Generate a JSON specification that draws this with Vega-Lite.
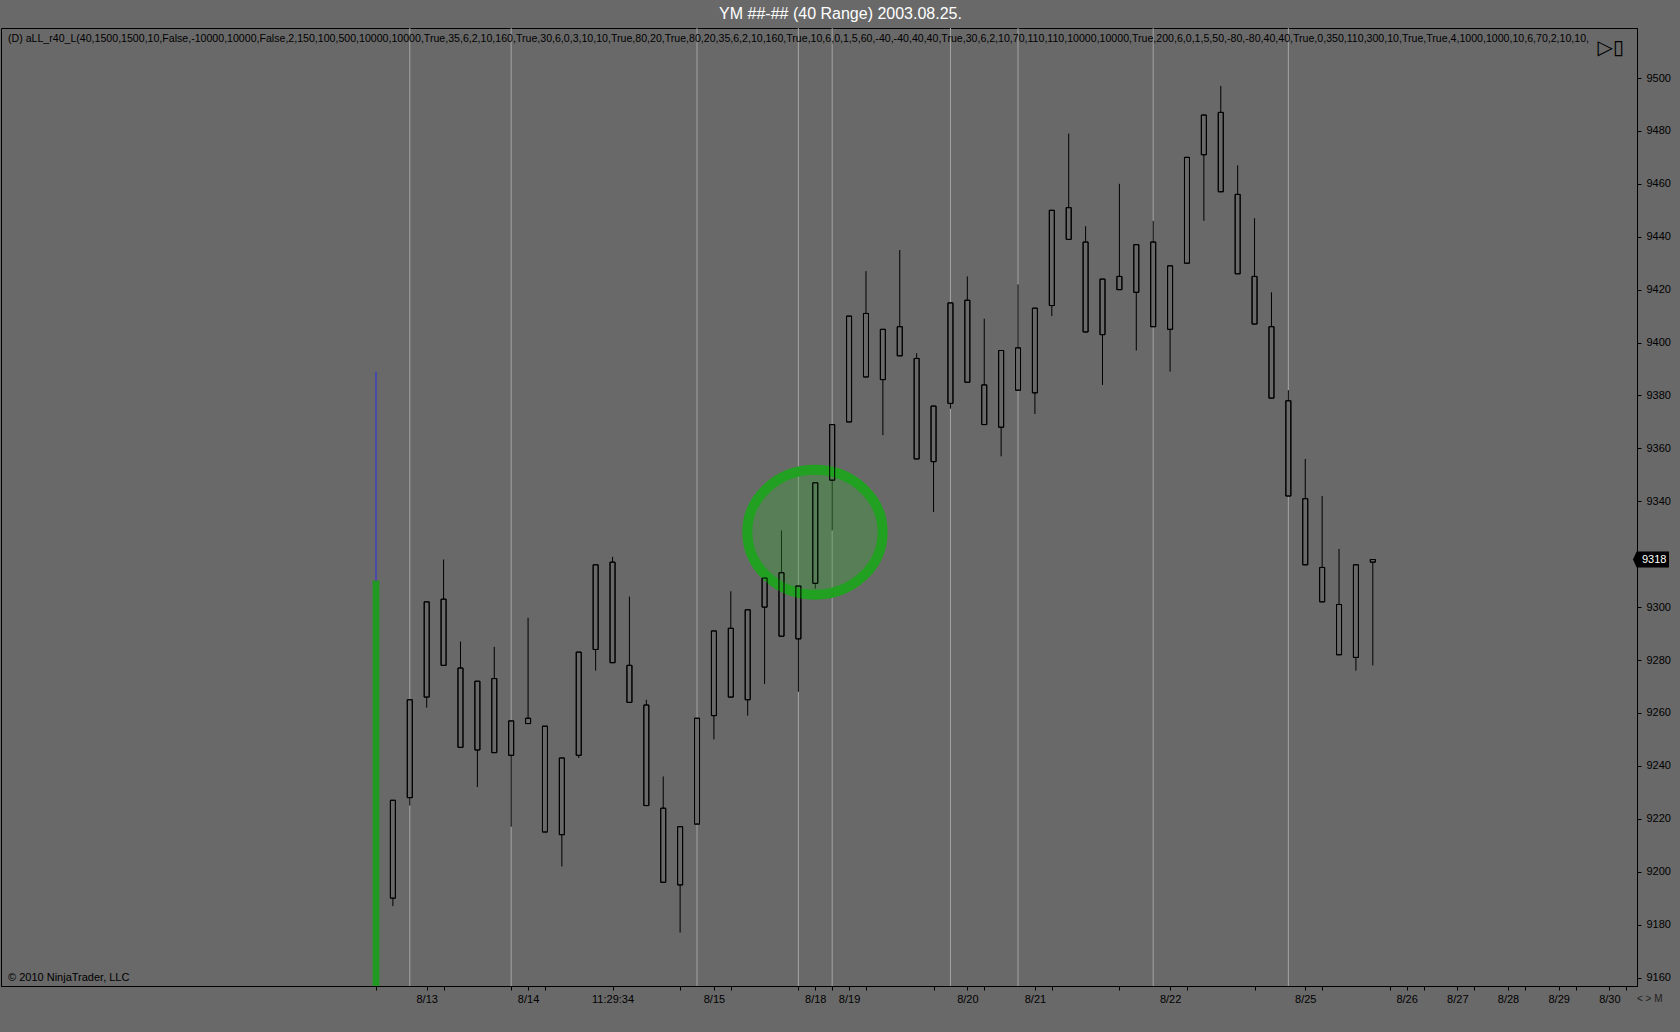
{
  "$schema": "https://vega.github.io/schema/vega-lite/v6.json",
  "width": 1680,
  "height": 1032,
  "autosize": {"type": "fit", "contains": "padding"},
  "padding": {"left": 1, "top": 5, "right": 0, "bottom": 0},
  "background": "#696969",
  "title": {
    "text": "YM ##-## (40 Range)  2003.08.25.",
    "color": "#ffffff",
    "font": "Liberation Sans",
    "fontSize": 16,
    "fontWeight": "normal",
    "anchor": "middle",
    "frame": "bounds",
    "offset": 6
  },
  "datasets": {
    "candles": [
      {"i": 1, "open": 9190, "high": 9227, "low": 9187, "close": 9227},
      {"i": 2, "open": 9228, "high": 9265, "low": 9225, "close": 9265},
      {"i": 3, "open": 9266, "high": 9302, "low": 9262, "close": 9302},
      {"i": 4, "open": 9303, "high": 9318, "low": 9278, "close": 9278},
      {"i": 5, "open": 9277, "high": 9287, "low": 9247, "close": 9247},
      {"i": 6, "open": 9246, "high": 9272, "low": 9232, "close": 9272},
      {"i": 7, "open": 9273, "high": 9285, "low": 9245, "close": 9245},
      {"i": 8, "open": 9244, "high": 9257, "low": 9217, "close": 9257},
      {"i": 9, "open": 9258, "high": 9296, "low": 9256, "close": 9256},
      {"i": 10, "open": 9255, "high": 9255, "low": 9215, "close": 9215},
      {"i": 11, "open": 9214, "high": 9243, "low": 9202, "close": 9243},
      {"i": 12, "open": 9244, "high": 9283, "low": 9243, "close": 9283},
      {"i": 13, "open": 9284, "high": 9316, "low": 9276, "close": 9316},
      {"i": 14, "open": 9317, "high": 9319, "low": 9279, "close": 9279},
      {"i": 15, "open": 9278, "high": 9304, "low": 9264, "close": 9264},
      {"i": 16, "open": 9263, "high": 9265, "low": 9225, "close": 9225},
      {"i": 17, "open": 9224, "high": 9236, "low": 9196, "close": 9196},
      {"i": 18, "open": 9195, "high": 9217, "low": 9177, "close": 9217},
      {"i": 19, "open": 9218, "high": 9258, "low": 9218, "close": 9258},
      {"i": 20, "open": 9259, "high": 9291, "low": 9250, "close": 9291},
      {"i": 21, "open": 9292, "high": 9306, "low": 9266, "close": 9266},
      {"i": 22, "open": 9265, "high": 9299, "low": 9259, "close": 9299},
      {"i": 23, "open": 9300, "high": 9311, "low": 9271, "close": 9311},
      {"i": 24, "open": 9313, "high": 9329, "low": 9289, "close": 9289},
      {"i": 25, "open": 9288, "high": 9308, "low": 9268, "close": 9308},
      {"i": 26, "open": 9309, "high": 9347, "low": 9307, "close": 9347},
      {"i": 27, "open": 9348, "high": 9369, "low": 9329, "close": 9369},
      {"i": 28, "open": 9370, "high": 9410, "low": 9370, "close": 9410},
      {"i": 29, "open": 9411, "high": 9427, "low": 9387, "close": 9387},
      {"i": 30, "open": 9386, "high": 9405, "low": 9365, "close": 9405},
      {"i": 31, "open": 9406, "high": 9435, "low": 9395, "close": 9395},
      {"i": 32, "open": 9394, "high": 9396, "low": 9356, "close": 9356},
      {"i": 33, "open": 9355, "high": 9376, "low": 9336, "close": 9376},
      {"i": 34, "open": 9377, "high": 9415, "low": 9375, "close": 9415},
      {"i": 35, "open": 9416, "high": 9425, "low": 9385, "close": 9385},
      {"i": 36, "open": 9384, "high": 9409, "low": 9369, "close": 9369},
      {"i": 37, "open": 9368, "high": 9397, "low": 9357, "close": 9397},
      {"i": 38, "open": 9398, "high": 9422, "low": 9382, "close": 9382},
      {"i": 39, "open": 9381, "high": 9413, "low": 9373, "close": 9413},
      {"i": 40, "open": 9414, "high": 9450, "low": 9410, "close": 9450},
      {"i": 41, "open": 9451, "high": 9479, "low": 9439, "close": 9439},
      {"i": 42, "open": 9438, "high": 9444, "low": 9404, "close": 9404},
      {"i": 43, "open": 9403, "high": 9424, "low": 9384, "close": 9424},
      {"i": 44, "open": 9425, "high": 9460, "low": 9420, "close": 9420},
      {"i": 45, "open": 9419, "high": 9437, "low": 9397, "close": 9437},
      {"i": 46, "open": 9438, "high": 9446, "low": 9406, "close": 9406},
      {"i": 47, "open": 9405, "high": 9429, "low": 9389, "close": 9429},
      {"i": 48, "open": 9430, "high": 9470, "low": 9430, "close": 9470},
      {"i": 49, "open": 9471, "high": 9486, "low": 9446, "close": 9486},
      {"i": 50, "open": 9487, "high": 9497, "low": 9457, "close": 9457},
      {"i": 51, "open": 9456, "high": 9467, "low": 9426, "close": 9426},
      {"i": 52, "open": 9425, "high": 9447, "low": 9407, "close": 9407},
      {"i": 53, "open": 9406, "high": 9419, "low": 9379, "close": 9379},
      {"i": 54, "open": 9378, "high": 9382, "low": 9342, "close": 9342},
      {"i": 55, "open": 9341, "high": 9356, "low": 9316, "close": 9316},
      {"i": 56, "open": 9315, "high": 9342, "low": 9302, "close": 9302},
      {"i": 57, "open": 9301, "high": 9322, "low": 9282, "close": 9282},
      {"i": 58, "open": 9281, "high": 9316, "low": 9276, "close": 9316},
      {"i": 59, "open": 9317, "high": 9318, "low": 9278, "close": 9318}
    ],
    "sessions": [
      {"i": 2}, {"i": 8}, {"i": 19}, {"i": 25}, {"i": 27}, {"i": 34}, {"i": 38}, {"i": 46}, {"i": 54}
    ],
    "signal": [
      {"i": 0, "signal": 9310, "target": 9389}
    ],
    "highlight": [
      {"i": 25.98, "price": 9328.3}
    ],
    "notes": [
      {"i": -21.9, "price": 9518.9, "note": "(D)  aLL_r40_L(40,1500,1500,10,False,-10000,10000,False,2,150,100,500,10000,10000,True,35,6,2,10,160,True,30,6,0,3,10,10,True,80,20,True,80,20,35,6,2,10,160,True,10,6,0,1,5,60,-40,-40,40,40,True,30,6,2,10,70,110,110,10000,10000,True,200,6,0,1,5,50,-80,-80,40,40,True,0,350,110,300,10,True,True,4,1000,1000,10,6,70,2,10,10,"}
    ],
    "copyright": [
      {"i": -21.9, "price": 9156.8, "note": "© 2010 NinjaTrader, LLC"}
    ],
    "corner": [
      {"i": 74.34, "price": 9518.9}
    ],
    "bottomCorner": [
      {"i": 74.34, "price": 9156.8}
    ],
    "lastPrice": [
      {"i": 74.34, "price": 9318}
    ]
  },
  "encoding": {
    "x": {
      "field": "i",
      "type": "quantitative",
      "title": null,
      "scale": {"domain": [-21.9, 74.34], "nice": false, "zero": false},
      "axis": {
        "orient": "bottom",
        "values": [0, 3, 4, 8, 9, 10, 14, 18, 20, 21, 25, 26, 27, 28, 29, 33, 35, 36, 39, 40, 44, 47, 48, 52, 55, 56, 60, 61, 62, 64, 65, 67, 68, 70, 71, 73, 74],
        "labelExpr": "['8/13','8/14','11:29:34','8/15','8/18','8/19','8/20','8/21','8/22','8/25','8/26','8/27','8/28','8/29','8/30'][indexof([3,9,14,20,26,28,35,39,47,55,61,64,67,70,73], datum.value)] || ''",
        "labelFlush": false,
        "labelOverlap": false,
        "labelPadding": 3,
        "tickSize": 4,
        "minExtent": 46,
        "maxExtent": 46
      }
    },
    "y": {
      "field": "price",
      "type": "quantitative",
      "title": null,
      "scale": {"domain": [9156.8, 9518.9], "nice": false, "zero": false},
      "axis": {
        "orient": "right",
        "format": "d",
        "values": [9160, 9180, 9200, 9220, 9240, 9260, 9280, 9300, 9340, 9360, 9380, 9400, 9420, 9440, 9460, 9480, 9500],
        "labelFlush": false,
        "labelOverlap": false,
        "labelPadding": 5,
        "tickSize": 4,
        "minExtent": 43,
        "maxExtent": 43
      }
    }
  },
  "layer": [
    {
      "data": {"name": "sessions"},
      "mark": {"type": "rule", "color": "#a4a4a4", "strokeWidth": 1},
      "encoding": {"y": null}
    },
    {
      "data": {"name": "signal"},
      "mark": {"type": "bar", "color": "#229922", "size": 7},
      "encoding": {
        "y": {"field": "signal", "type": "quantitative", "title": null},
        "y2": {"datum": 9156.8}
      }
    },
    {
      "data": {"name": "signal"},
      "mark": {"type": "rule", "color": "#2a2ae6", "strokeWidth": 1},
      "encoding": {
        "y": {"field": "signal", "type": "quantitative", "title": null},
        "y2": {"field": "target"}
      }
    },
    {
      "data": {"name": "candles"},
      "mark": {"type": "rule", "color": "#000000", "strokeWidth": 1},
      "encoding": {
        "y": {"field": "high", "type": "quantitative", "title": null},
        "y2": {"field": "low"}
      }
    },
    {
      "data": {"name": "candles"},
      "mark": {"type": "bar", "size": 5, "fill": "#696969", "stroke": "#000000", "strokeWidth": 1},
      "encoding": {
        "y": {"field": "open", "type": "quantitative", "title": null},
        "y2": {"field": "close"}
      }
    },
    {
      "data": {"name": "highlight"},
      "mark": {
        "type": "point",
        "shape": "M 1 0 C 1 0.5098 0.5523 0.923 0 0.923 C -0.5523 0.923 -1 0.5098 -1 0 C -1 -0.5098 -0.5523 -0.923 0 -0.923 C 0.5523 -0.923 1 -0.5098 1 0 Z",
        "size": 18330,
        "filled": true,
        "fill": "#33aa33",
        "fillOpacity": 0.33,
        "stroke": "#22a022",
        "strokeOpacity": 1,
        "strokeWidth": 10
      }
    },
    {
      "data": {"name": "candles"},
      "mark": {"type": "bar", "size": 5, "fill": "#696969", "fillOpacity": 0, "stroke": "#000000", "strokeWidth": 1},
      "encoding": {
        "y": {"field": "open", "type": "quantitative", "title": null},
        "y2": {"field": "close"}
      }
    },
    {
      "data": {"name": "notes"},
      "mark": {"type": "text", "align": "left", "baseline": "middle", "dx": 2, "dy": 11, "font": "Liberation Sans", "fontSize": 10.6, "color": "#000000"},
      "encoding": {"text": {"field": "note"}}
    },
    {
      "data": {"name": "copyright"},
      "mark": {"type": "text", "align": "left", "baseline": "middle", "dx": 2, "dy": -8, "font": "Liberation Sans", "fontSize": 11, "color": "#000000"},
      "encoding": {"text": {"field": "note"}}
    },
    {
      "data": {"name": "corner"},
      "mark": {"type": "text", "align": "right", "baseline": "middle", "dx": -8, "dy": 20, "font": "DejaVu Sans", "fontSize": 20, "color": "#000000", "text": "▷▯"}
    },
    {
      "data": {"name": "bottomCorner"},
      "mark": {"type": "text", "align": "left", "baseline": "middle", "dx": 5, "dy": 13, "font": "Liberation Sans", "fontSize": 10, "color": "#1e1e1e", "text": "< > M"}
    },
    {
      "data": {"name": "lastPrice"},
      "mark": {"type": "point", "shape": "M -1 0 L -0.8 -0.45 L 1 -0.45 L 1 0.45 L -0.8 0.45 Z", "size": 1296, "filled": true, "fill": "#000000", "opacity": 1, "xOffset": 19}
    },
    {
      "data": {"name": "lastPrice"},
      "mark": {"type": "text", "align": "left", "baseline": "middle", "dx": 10, "font": "Liberation Sans", "fontSize": 11, "color": "#ffffff"},
      "encoding": {"text": {"field": "price", "type": "quantitative", "format": "d"}}
    }
  ],
  "config": {
    "font": "Liberation Sans",
    "view": {"stroke": "#000000", "strokeWidth": 1},
    "axis": {
      "grid": false,
      "domainColor": "#000000",
      "domainWidth": 1,
      "tickColor": "#000000",
      "tickWidth": 1,
      "labelColor": "#000000",
      "labelFont": "Liberation Sans",
      "labelFontSize": 11
    }
  }
}
